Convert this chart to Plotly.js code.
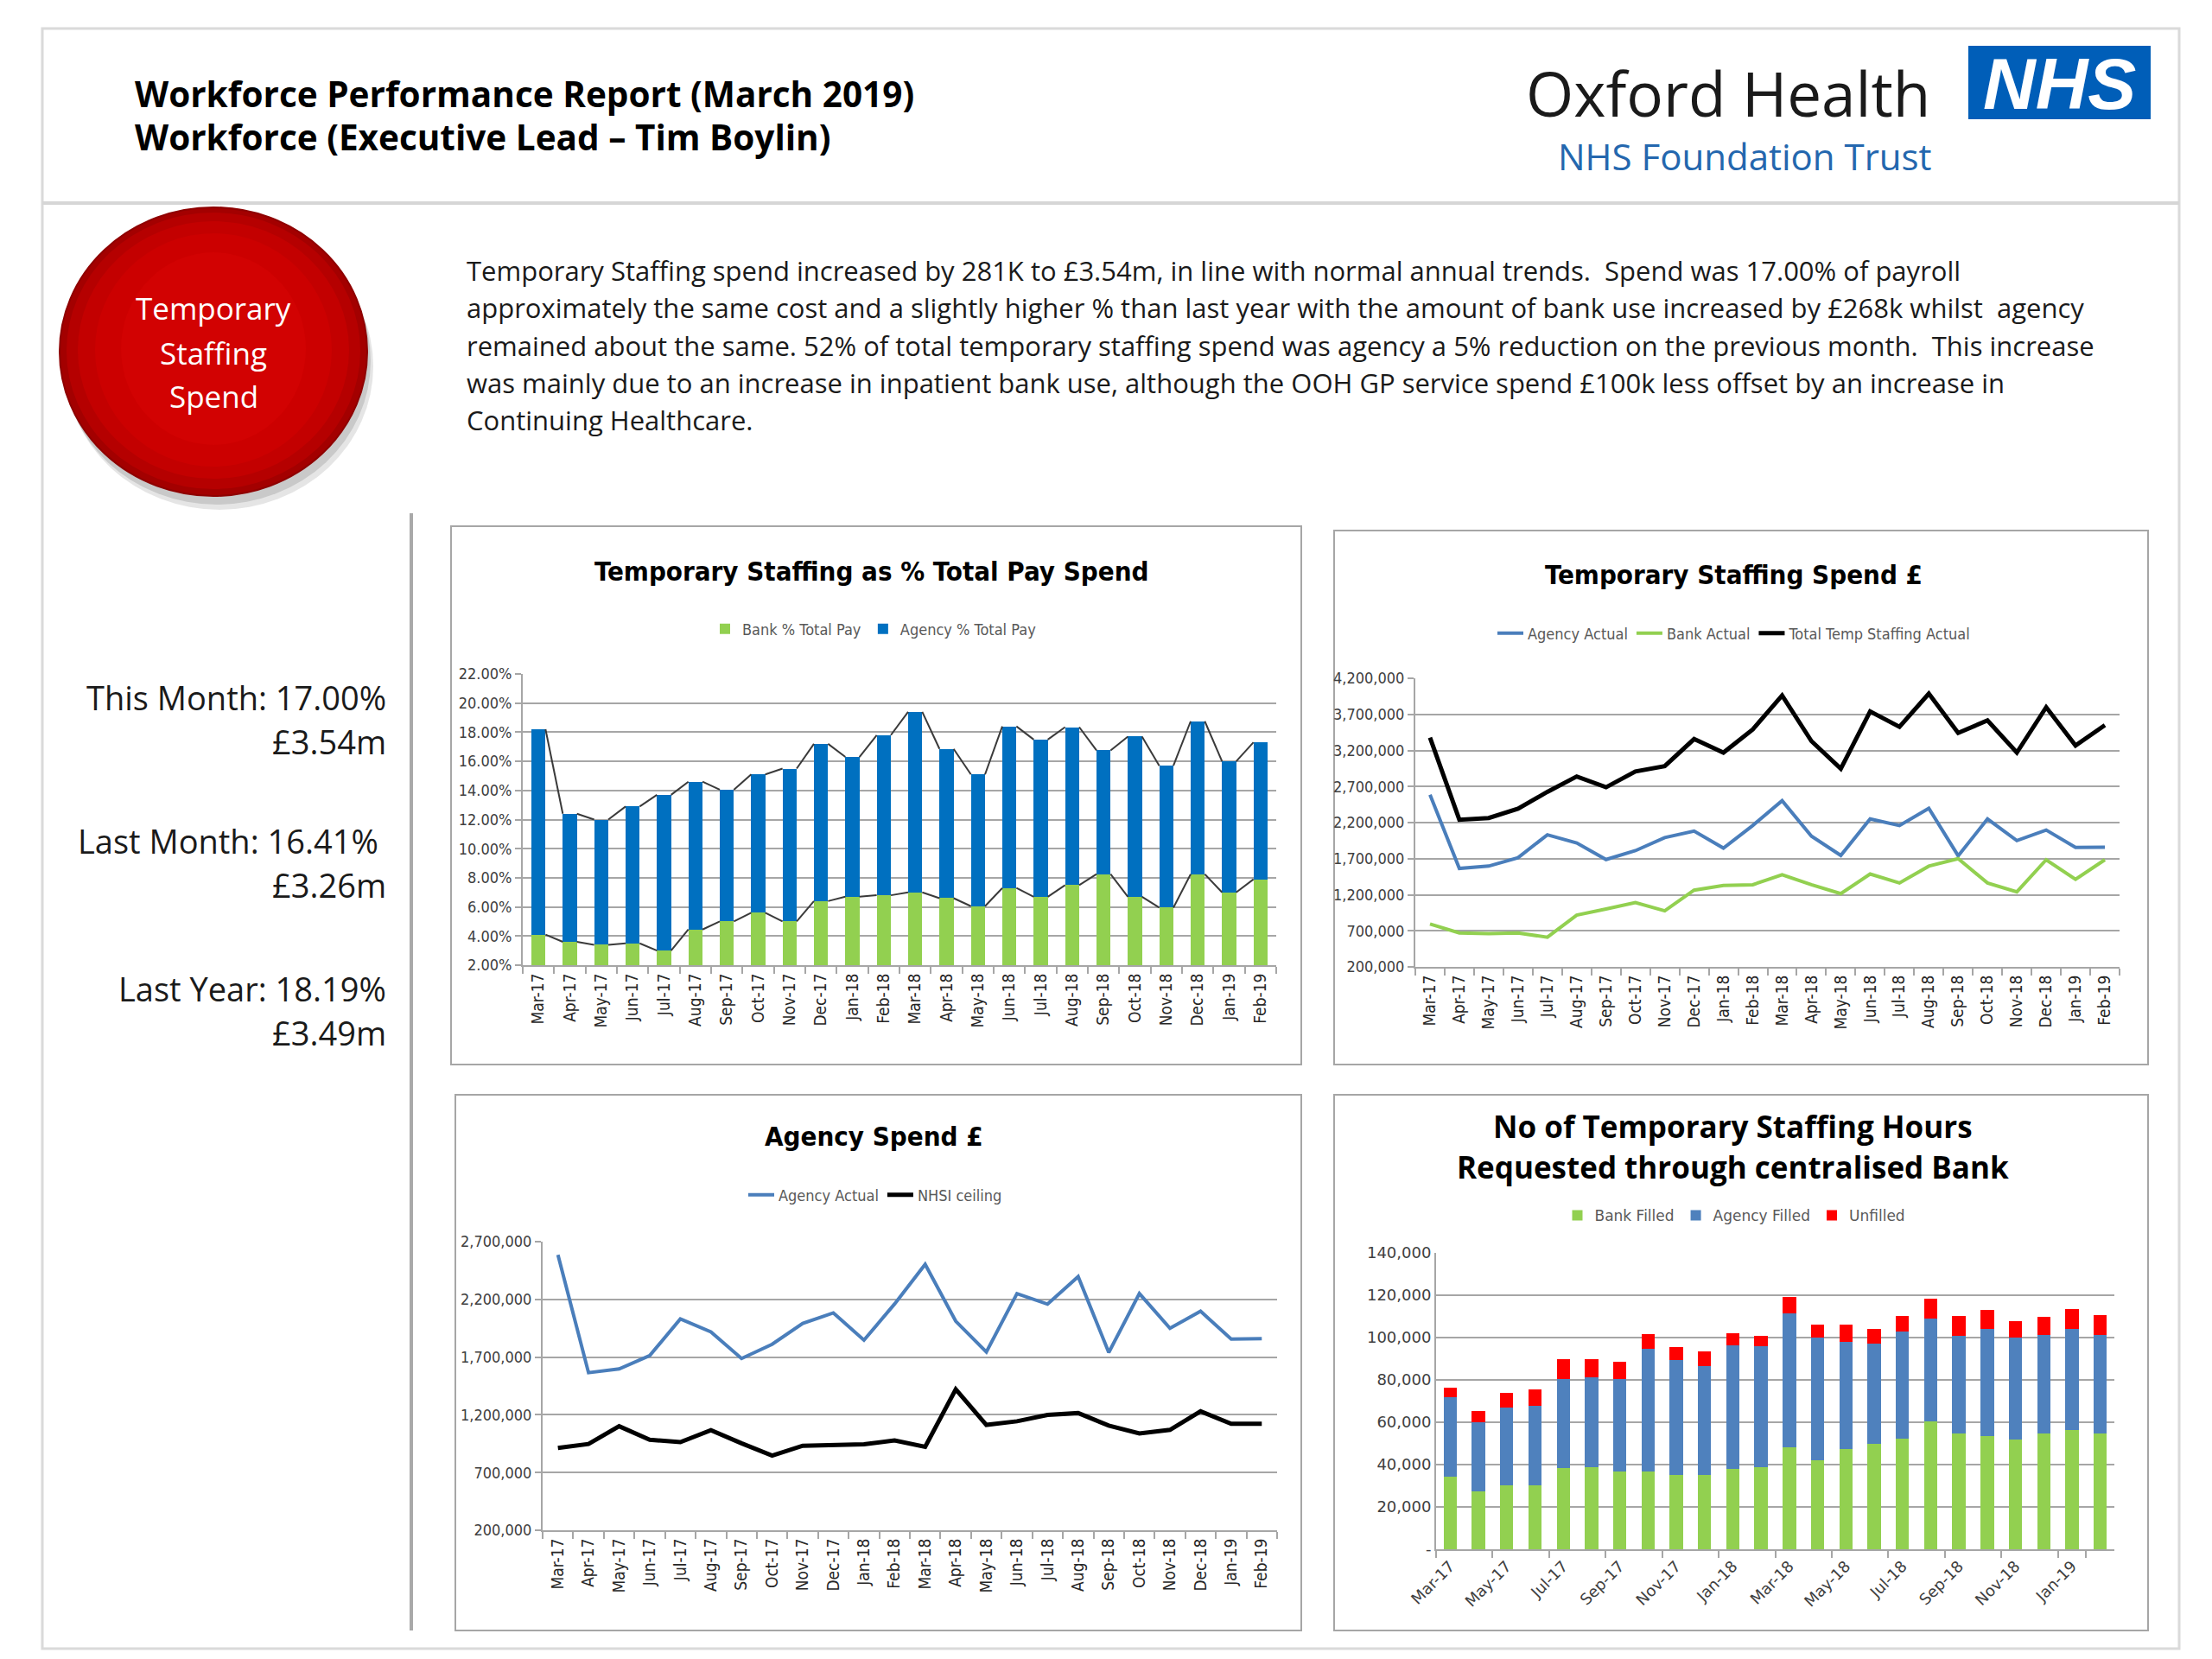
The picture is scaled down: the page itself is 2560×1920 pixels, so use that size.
<!DOCTYPE html>
<html>
<head>
<meta charset="utf-8">
<script src="https://cdn.plot.ly/plotly-3.0.1.min.js"></script>
<style>
  html, body { margin: 0; padding: 0; background: #ffffff; }
  #chart { width: 2560px; height: 1920px; }
</style>
</head>
<body>
<div id="chart"></div>
<script>
// ---------------- DATA ----------------
const months = ['Mar-17','Apr-17','May-17','Jun-17','Jul-17','Aug-17','Sep-17','Oct-17','Nov-17','Dec-17','Jan-18','Feb-18',
                'Mar-18','Apr-18','May-18','Jun-18','Jul-18','Aug-18','Sep-18','Oct-18','Nov-18','Dec-18','Jan-19','Feb-19'];

// Chart 1: Temporary Staffing as % Total Pay Spend (percent)
const bankPct   = [4.1, 3.6, 3.4, 3.5, 3.0, 4.45, 5.0, 5.6, 5.0, 6.4, 6.7, 6.8, 7.0, 6.6, 6.05, 7.3, 6.7, 7.5, 8.25, 6.7, 5.95, 8.25, 7.0, 7.9];
const agencyPct = [14.1, 8.8, 8.6, 9.4, 10.7, 10.15, 9.05, 9.5, 10.5, 10.8, 9.6, 11.0, 12.4, 10.25, 9.05, 11.1, 10.8, 10.85, 8.5, 11.0, 9.75, 10.5, 9.0, 9.4];

// Chart 2: Temporary Staffing Spend £
const agencyActual = [2585000,1565000,1597000,1713000,2031000,1918000,1688000,1811000,1992000,2083000,1847000,2160000,
                      2504000,2011000,1745000,2250000,2159000,2397000,1740000,2250000,1950000,2097000,1856000,1860000];
const bankActual   = [794000,670000,660000,670000,611000,918000,1002000,1091000,977000,1264000,1329000,1339000,
                      1477000,1339000,1215000,1487000,1363000,1596000,1700000,1363000,1240000,1685000,1413000,1685000];
const totalActual  = [3378000,2240000,2264000,2393000,2626000,2839000,2690000,2908000,2982000,3358000,3170000,3492000,
                      3962000,3329000,2948000,3740000,3527000,3987000,3443000,3616000,3170000,3799000,3269000,3551000];

// Chart 3: Agency Spend £
const nhsiCeiling  = [913000,947000,1101000,984000,963000,1067000,953000,846000,932000,934000,944000,978000,
                      923000,1421000,1113000,1144000,1199000,1215000,1107000,1039000,1070000,1230000,1122000,1122000];

// Chart 4: No of Temporary Staffing Hours
const bankFilled   = [34100,27300,30400,30400,38300,38800,36800,36600,35100,35100,37900,38800,
                      48100,42200,47200,49700,52300,60400,54600,53600,51800,54800,56500,54800];
const agencyFilled = [37900,32900,36500,37400,42300,42500,43800,58200,54300,51400,58600,57300,
                      63500,57600,50900,47300,50600,48700,46200,50400,48000,46400,47700,46400];
const unfilled     = [4200,5100,7000,7600,9100,8400,7900,6700,6200,7100,5500,4700,
                      7600,6400,8100,7000,7400,9400,9500,9000,8100,8700,9300,9600];

const hoursTickVals = [0,20000,40000,60000,80000,100000,120000,140000];
const hoursTickText = ['-','20,000','40,000','60,000','80,000','100,000','120,000','140,000'];

const statLines = ['This Month: 17.00%','£3.54m','Last Month: 16.41% ','£3.26m','Last Year: 18.19%','£3.49m'];
const paragraph = [
  'Temporary Staffing spend increased by 281K to £3.54m, in line with normal annual trends.  Spend was 17.00% of payroll',
  'approximately the same cost and a slightly higher % than last year with the amount of bank use increased by £268k whilst  agency',
  'remained about the same. 52% of total temporary staffing spend was agency a 5% reduction on the previous month.  This increase',
  'was mainly due to an increase in inpatient bank use, although the OOH GP service spend £100k less offset by an increase in',
  'Continuing Healthcare.'
];

// ---------------- HELPERS ----------------
const W = 2560, H = 1920;
const fx = v => v / W;
const fy = v => 1 - v / H;
const dom = (a, b) => [fx(a), fx(b)];
const domY = (top, bottom) => [fy(bottom), fy(top)];

const NARROW = "'Liberation Sans Narrow', 'DejaVu Sans Condensed', 'Arial Narrow', sans-serif";
const WIDE = "'DejaVu Sans', Verdana, sans-serif";
const OPEN = "'Open Sans', 'Noto Sans', sans-serif";
const GRID = '#A6A6A6';

const idx = months.map((m, i) => i);
const bw = 0.45;
function seriesLines(tops) {
  const xs = [], ys = [];
  for (let i = 0; i < tops.length - 1; i++) {
    xs.push(i + bw / 2, i + 1 - bw / 2, null);
    ys.push(tops[i], tops[i + 1], null);
  }
  return {xs, ys};
}
const totalPctTops = bankPct.map((b, i) => b + agencyPct[i]);
const sl1 = seriesLines(bankPct);
const sl2 = seriesLines(totalPctTops);

// ---------------- TRACES ----------------
const traces = [
  // chart 1
  {type:'bar', x: idx, y: bankPct, width: bw, name:'Bank % Total Pay', marker:{color:'#92D050'}, xaxis:'x', yaxis:'y', legend:'legend'},
  {type:'bar', x: idx, y: agencyPct, width: bw, name:'Agency % Total Pay', marker:{color:'#0070C0'}, xaxis:'x', yaxis:'y', legend:'legend'},
  {type:'scatter', mode:'lines', x: sl1.xs, y: sl1.ys, line:{color:'#3a3a3a', width:2}, showlegend:false, xaxis:'x', yaxis:'y', connectgaps:false},
  {type:'scatter', mode:'lines', x: sl2.xs, y: sl2.ys, line:{color:'#3a3a3a', width:2}, showlegend:false, xaxis:'x', yaxis:'y', connectgaps:false},
  // chart 2
  {type:'scatter', mode:'lines', x: months, y: agencyActual, name:'Agency Actual', line:{color:'#4A7EBB', width:4}, xaxis:'x2', yaxis:'y2', legend:'legend2'},
  {type:'scatter', mode:'lines', x: months, y: bankActual, name:'Bank Actual', line:{color:'#92D050', width:4}, xaxis:'x2', yaxis:'y2', legend:'legend2'},
  {type:'scatter', mode:'lines', x: months, y: totalActual, name:'Total Temp Staffing Actual', line:{color:'#000000', width:5}, xaxis:'x2', yaxis:'y2', legend:'legend2'},
  // chart 3
  {type:'scatter', mode:'lines', x: months, y: agencyActual, name:'Agency Actual', line:{color:'#4A7EBB', width:4}, xaxis:'x3', yaxis:'y3', legend:'legend3'},
  {type:'scatter', mode:'lines', x: months, y: nhsiCeiling, name:'NHSI ceiling', line:{color:'#000000', width:5}, xaxis:'x3', yaxis:'y3', legend:'legend3'},
  // chart 4
  {type:'bar', x: months, y: bankFilled, name:'Bank Filled', marker:{color:'#92D050'}, xaxis:'x4', yaxis:'y4', legend:'legend4'},
  {type:'bar', x: months, y: agencyFilled, name:'Agency Filled', marker:{color:'#4F81BD'}, xaxis:'x4', yaxis:'y4', legend:'legend4'},
  {type:'bar', x: months, y: unfilled, name:'Unfilled', marker:{color:'#FF0000'}, xaxis:'x4', yaxis:'y4', legend:'legend4'}
];

// ---------------- AXES ----------------
const catX = (domain, anchor) => ({
  domain, anchor, type:'category', tickangle:-90, tickson:'boundaries', ticks:'outside', ticklen:8, tickwidth:2, tickcolor:GRID,
  showline:true, linecolor:GRID, linewidth:2, showgrid:false, tickfont:{family:NARROW, size:19, color:'#262626'},
  range:[-0.5, months.length - 0.5], fixedrange:true
});
const valY = (domain, anchor, range, extra) => Object.assign({
  domain, anchor, range, showline:true, linecolor:GRID, linewidth:2, ticks:'outside', ticklen:7, tickwidth:2, tickcolor:GRID,
  gridcolor:GRID, gridwidth:2, zeroline:false, tickfont:{family:NARROW, size:18, color:'#404040'}, fixedrange:true
}, extra);

const layout = {
  width: W, height: H, margin:{l:0, r:0, t:0, b:0}, paper_bgcolor:'#ffffff', plot_bgcolor:'#ffffff',
  barmode:'stack', bargap:0.53, hovermode:false,
  xaxis: {
    domain: dom(605, 1477), anchor:'y', range:[-0.5, months.length - 0.5], tickmode:'array', tickvals: idx, ticktext: months,
    tickangle:-90, ticks:'', showline:true, linecolor:GRID, linewidth:2, showgrid:false, zeroline:false,
    tickfont:{family:NARROW, size:19, color:'#262626'},
    minor:{tickmode:'linear', tick0:-0.5, dtick:1, ticks:'outside', ticklen:8, tickwidth:2, tickcolor:GRID, showgrid:false}
  },
  yaxis: valY(domY(780, 1117), 'x', [2, 22], {dtick:2, tick0:2, tickformat:'.2f', ticksuffix:'%'}),
  xaxis2: catX(dom(1638, 2453), 'y2'),
  yaxis2: valY(domY(785, 1119), 'x2', [200000, 4200000], {dtick:500000, tick0:200000, tickformat:',d'}),
  xaxis3: catX(dom(628, 1478), 'y3'),
  yaxis3: valY(domY(1437, 1771), 'x3', [200000, 2700000], {dtick:500000, tick0:200000, tickformat:',d'}),
  xaxis4: {
    domain: dom(1662, 2447), anchor:'y4', type:'category', tickmode:'array', tickvals: months.filter((m, i) => i % 2 === 0),
    tickangle:-45, tickson:'boundaries', ticks:'outside', ticklen:8, tickwidth:2, tickcolor:GRID,
    showline:true, linecolor:GRID, linewidth:2, showgrid:false, tickfont:{family:WIDE, size:18, color:'#404040'},
    range:[-0.5, months.length - 0.5]
  },
  yaxis4: {
    domain: domY(1450, 1793), anchor:'x4', range:[0, 140000], tickmode:'array', tickvals: hoursTickVals, ticktext: hoursTickText,
    showline:true, linecolor:GRID, linewidth:2, ticks:'', gridcolor:GRID, gridwidth:2, zeroline:false,
    tickfont:{family:WIDE, size:18, color:'#404040'}
  },
  legend:  {x: fx(1012), y: fy(728),  xanchor:'center', yanchor:'middle', orientation:'h', traceorder:'normal',
            font:{family:NARROW, size:18, color:'#595959'}, bgcolor:'rgba(0,0,0,0)'},
  legend2: {x: fx(2007), y: fy(733),  xanchor:'center', yanchor:'middle', orientation:'h', traceorder:'normal',
            font:{family:NARROW, size:18, color:'#595959'}, bgcolor:'rgba(0,0,0,0)'},
  legend3: {x: fx(1013), y: fy(1383), xanchor:'center', yanchor:'middle', orientation:'h', traceorder:'normal',
            font:{family:NARROW, size:18, color:'#595959'}, bgcolor:'rgba(0,0,0,0)'},
  legend4: {x: fx(2008), y: fy(1407), xanchor:'center', yanchor:'middle', orientation:'h', traceorder:'normal',
            font:{family:WIDE, size:17, color:'#595959'}, bgcolor:'rgba(0,0,0,0)'},
  shapes: [],
  annotations: []
};

// ---------------- DECORATION ----------------
const S = layout.shapes, A = layout.annotations;
const rect = (x0, y0, x1, y1, opts) => S.push(Object.assign({type:'rect', xref:'paper', yref:'paper', x0:fx(x0), x1:fx(x1), y0:fy(y1), y1:fy(y0), layer:'below'}, opts));
const ell = (x0, y0, x1, y1, opts) => S.push(Object.assign({type:'circle', xref:'paper', yref:'paper', x0:fx(x0), x1:fx(x1), y0:fy(y1), y1:fy(y0), layer:'above'}, opts));
const line = (x0, y0, x1, y1, opts) => S.push(Object.assign({type:'line', xref:'paper', yref:'paper', x0:fx(x0), x1:fx(x1), y0:fy(y0), y1:fy(y1), layer:'above'}, opts));
const text = (t, x, y, opts) => A.push(Object.assign({text:t, x:fx(x), y:fy(y), xref:'paper', yref:'paper', showarrow:false, xanchor:'left', yanchor:'middle'}, opts));

// page frame
rect(49, 33, 2522, 1908, {line:{color:'#DADADA', width:3}, fillcolor:'rgba(0,0,0,0)'});
line(49, 235, 2522, 235, {line:{color:'#D6D6D6', width:4}});
// chart frames
rect(522, 609, 1506, 1232, {line:{color:'#A6A6A6', width:2}, fillcolor:'rgba(0,0,0,0)'});
rect(1544, 614, 2486, 1232, {line:{color:'#A6A6A6', width:2}, fillcolor:'rgba(0,0,0,0)'});
rect(527, 1267, 1506, 1887, {line:{color:'#A6A6A6', width:2}, fillcolor:'rgba(0,0,0,0)'});
rect(1544, 1267, 2486, 1887, {line:{color:'#A6A6A6', width:2}, fillcolor:'rgba(0,0,0,0)'});
// vertical separator
line(476, 594, 476, 1887, {line:{color:'#A9A9A9', width:4}});

// red circle with shadow and shading
ell(76, 258, 432, 590, {fillcolor:'rgba(0,0,0,0.10)', line:{width:0}});
ell(73, 252, 429, 584, {fillcolor:'rgba(0,0,0,0.12)', line:{width:0}});
ell(69, 240, 425, 574, {fillcolor:'#A30000', line:{color:'#8E0000', width:2}});
ell(77, 246, 417, 566, {fillcolor:'#B50000', line:{width:0}});
ell(90, 256, 404, 554, {fillcolor:'#C30000', line:{width:0}});
ell(110, 270, 384, 540, {fillcolor:'#CC0000', line:{width:0}});
ell(140, 292, 354, 515, {fillcolor:'#D20202', line:{width:0}});

// NHS logo box
rect(2278, 53, 2489, 138, {fillcolor:'#005EB8', line:{width:0}, layer:'above'});
text('<b><i>NHS</i></b>', 2383, 97, {xanchor:'center', font:{family:"'Liberation Sans', Arial, sans-serif", size:84, color:'#ffffff'}});
text('Oxford Health', 1764, 107, {font:{family:OPEN, size:71, color:'#1a1a1a'}});
text('NHS Foundation Trust', 2238, 181, {xanchor:'right', font:{family:OPEN, size:42, color:'#2467AE'}});

// header title
text('<b>Workforce Performance Report (March 2019)</b>', 154, 108, {font:{family:OPEN, size:40.5, color:'#000000'}});
text('<b>Workforce (Executive Lead – Tim Boylin)</b>', 154, 159, {font:{family:OPEN, size:40.5, color:'#000000'}});

// circle label
['Temporary', 'Staffing', 'Spend'].forEach((t, i) => text(t, 247, 357 + i * 51, {xanchor:'center', font:{family:OPEN, size:35, color:'#ffffff'}}));

// paragraph
paragraph.forEach((t, i) => text(t, 538, 313 + i * 43.3, {font:{family:OPEN, size:31, color:'#1a1a1a'}}));

// stats
const statY = [807, 858, 973, 1024, 1144, 1195];
statLines.forEach((t, i) => text(t.trim(), t.endsWith(' ') ? 440 : 449, statY[i], {xanchor:'right', font:{family:OPEN, size:38, color:'#1a1a1a'}}));

// chart titles
text('<b>Temporary Staffing as % Total Pay Spend</b>', 1009, 661, {xanchor:'center', font:{family:NARROW, size:31, color:'#000000'}});
text('<b>Temporary Staffing Spend £</b>', 2006, 665, {xanchor:'center', font:{family:NARROW, size:31, color:'#000000'}});
text('<b>Agency Spend £</b>', 1011, 1315, {xanchor:'center', font:{family:NARROW, size:31, color:'#000000'}});
text('<b>No of Temporary Staffing Hours</b>', 2005, 1303, {xanchor:'center', font:{family:OPEN, size:35, color:'#000000'}});
text('<b>Requested through centralised Bank</b>', 2005, 1350, {xanchor:'center', font:{family:OPEN, size:35, color:'#000000'}});

Plotly.newPlot('chart', traces, layout, {staticPlot:true, displayModeBar:false});
</script>
</body>
</html>
